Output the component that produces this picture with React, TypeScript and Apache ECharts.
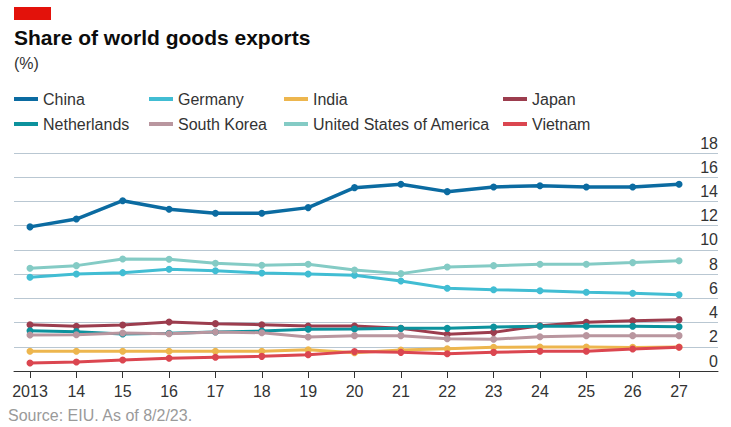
import React, { useEffect, useRef } from "react";
import * as echarts from "echarts";

const years = [2013, 2014, 2015, 2016, 2017, 2018, 2019, 2020, 2021, 2022, 2023, 2024, 2025, 2026, 2027];
const yTicks = [0, 2, 4, 6, 8, 10, 12, 14, 16, 18];

const china = [11.9, 12.55, 14.06, 13.35, 13.02, 13.02, 13.49, 15.14, 15.42, 14.81, 15.19, 15.3, 15.19, 15.19, 15.42];
const germany = [7.74, 8.01, 8.12, 8.4, 8.28, 8.09, 8.01, 7.9, 7.43, 6.83, 6.71, 6.63, 6.5, 6.42, 6.3];
const india = [1.63, 1.63, 1.63, 1.63, 1.63, 1.63, 1.76, 1.51, 1.73, 1.84, 1.96, 1.98, 1.98, 1.95, 1.98];
const japan = [3.82, 3.69, 3.8, 4.05, 3.91, 3.82, 3.72, 3.72, 3.52, 3.03, 3.19, 3.74, 4.02, 4.15, 4.24];
const netherlands = [3.33, 3.25, 3.06, 3.11, 3.22, 3.3, 3.44, 3.47, 3.52, 3.52, 3.63, 3.69, 3.69, 3.69, 3.66];
const southKorea = [2.97, 3.0, 3.14, 3.08, 3.22, 3.16, 2.81, 2.92, 2.92, 2.67, 2.62, 2.83, 2.92, 2.92, 2.92];
const usa = [8.48, 8.7, 9.25, 9.22, 8.89, 8.73, 8.81, 8.34, 8.04, 8.59, 8.7, 8.81, 8.81, 8.95, 9.11];
const vietnam = [0.66, 0.74, 0.91, 1.05, 1.13, 1.21, 1.35, 1.6, 1.54, 1.43, 1.54, 1.63, 1.63, 1.82, 1.96];

const seriesDefs = [
  { name: "China", data: china, color: "#0B6BA1", width: 3.5 },
  { name: "Germany", data: germany, color: "#41BDD3", width: 3 },
  { name: "India", data: india, color: "#EDB64E", width: 3 },
  { name: "Japan", data: japan, color: "#9C3D4E", width: 3 },
  { name: "Netherlands", data: netherlands, color: "#0C929D", width: 3 },
  { name: "South Korea", data: southKorea, color: "#B9969F", width: 3 },
  { name: "United States of America", data: usa, color: "#84CBC5", width: 3 },
  { name: "Vietnam", data: vietnam, color: "#DB4650", width: 3 },
];

const legendCols = [
  { left: 14, names: ["China", "Netherlands"] },
  { left: 149, names: ["Germany", "South Korea"] },
  { left: 284, names: ["India", "United States of America"] },
  { left: 503, names: ["Japan", "Vietnam"] },
];

const FONT = "'Liberation Sans', Arial, Helvetica, sans-serif";

export default function App() {
  const ref = useRef<HTMLDivElement>(null);
  useEffect(() => {
    if (!ref.current) return;
    const chart = echarts.init(ref.current, null, { renderer: "svg" });
    const option: any = {
      animation: false,
      backgroundColor: "#ffffff",
      textStyle: { fontFamily: FONT },
      grid: { left: 14, right: 13, top: 153, bottom: 56, containLabel: false },
      legend: legendCols.map((c) => ({
        orient: "vertical",
        left: c.left,
        top: 91,
        itemGap: 9,
        itemWidth: 24,
        itemHeight: 4,
        icon: "rect",
        padding: 0,
        data: c.names,
        textStyle: { fontSize: 16, color: "#333333", fontFamily: FONT, lineHeight: 16 },
      })),
      graphic: [
        { type: "rect", left: 14, top: 7, shape: { width: 37, height: 13 }, style: { fill: "#E3120B" } },
        {
          type: "text",
          x: 14,
          y: 37,
          style: { text: "Share of world goods exports", fontSize: 21, fontWeight: "bold", fill: "#0C0C0C", font: `bold 21px ${FONT}`, textVerticalAlign: "middle" },
        },
        {
          type: "text",
          x: 14,
          y: 63,
          style: { text: "(%)", fill: "#333333", font: `16px ${FONT}`, textVerticalAlign: "middle" },
        },
        {
          type: "text",
          x: 8,
          y: 415,
          style: { text: "Source: EIU. As of 8/2/23.", fill: "#9A9A9A", font: `16px ${FONT}`, textVerticalAlign: "middle" },
        },
      ],
      xAxis: {
        type: "value",
        min: 2012.655,
        max: 2027.84,
        axisLine: { show: true, onZero: false, lineStyle: { color: "#333333", width: 1 } },
        axisTick: { show: true, length: 7, lineStyle: { color: "#333333" }, customValues: years },
        axisLabel: {
          customValues: years,
          formatter: (v: number) => (v === 2013 ? "2013" : String(v).slice(2)),
          fontSize: 16,
          color: "#333333",
          margin: 12,
          fontFamily: FONT,
        },
        splitLine: { show: false },
      },
      yAxis: {
        type: "value",
        position: "right",
        min: yTicks[0],
        max: yTicks[yTicks.length - 1],
        interval: 2,
        axisLine: { show: false },
        axisTick: { show: false },
        splitLine: { show: true, lineStyle: { color: "#B9C7D2", width: 1 } },
        axisLabel: {
          inside: true,
          margin: 0,
          fontSize: 16,
          color: "#333333",
          verticalAlign: "bottom",
          lineHeight: 16,
          padding: [0, 0, 2, 0],
          fontFamily: FONT,
        },
      },
      series: seriesDefs.map((s) => ({
        name: s.name,
        type: "line",
        data: years.map((y, i) => [y, s.data[i]]),
        symbol: "circle",
        symbolSize: 7,
        showSymbol: true,
        lineStyle: { color: s.color, width: s.width },
        itemStyle: { color: s.color },
        emphasis: { disabled: true },
      })),
    };
    chart.setOption(option);
    return () => chart.dispose();
  }, []);
  return <div ref={ref} style={{ position: "fixed", left: 0, top: 0, width: 731, height: 427 }} />;
}
